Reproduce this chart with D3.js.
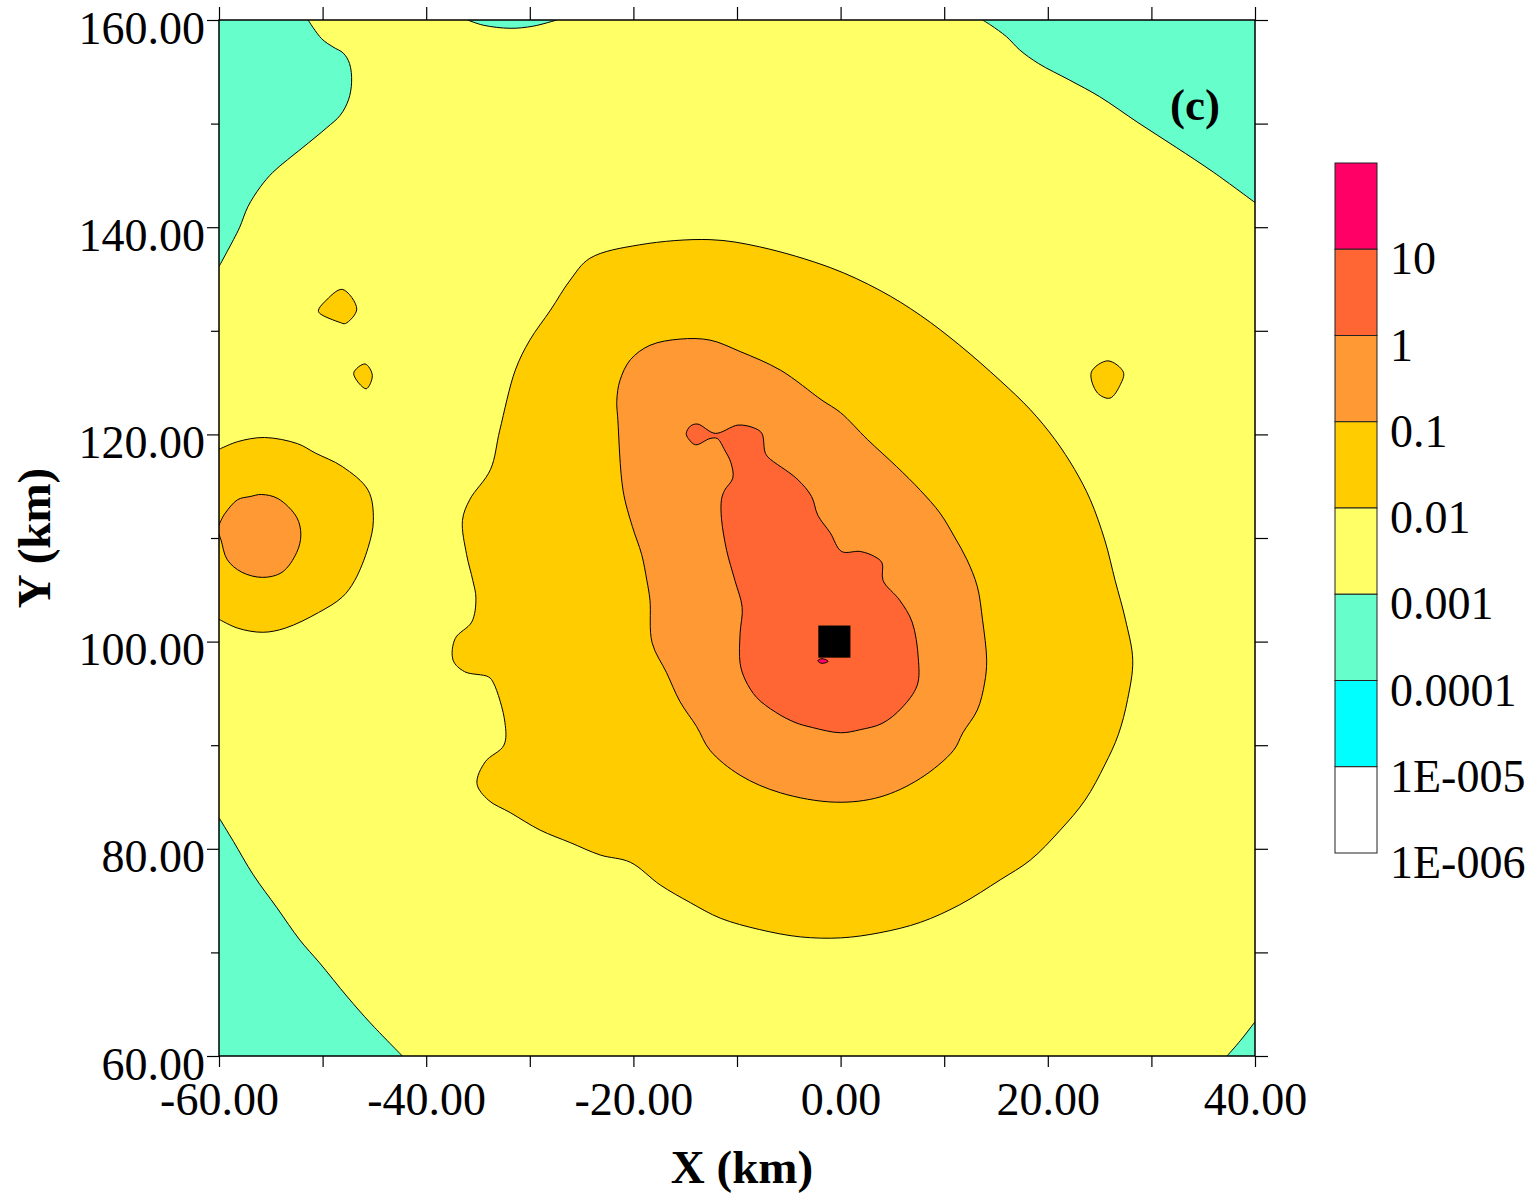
<!DOCTYPE html>
<html>
<head>
<meta charset="utf-8">
<script src="https://cdn.jsdelivr.net/npm/d3@7"></script>
<style>
  body { margin: 0; background: #fff; }
  svg { display: block; }
  text { font-family: "Liberation Serif", "Times New Roman", serif; fill: #000; }
</style>
</head>
<body>
<svg id="chart" width="1538" height="1195"></svg>
<script>
// axis ticks (km)
var xMajor = [-60, -40, -20, 0, 20, 40];
var xMinor = [-50, -30, -10, 10, 30];
var yMajor = [60, 80, 100, 120, 140, 160];
var yMinor = [70, 90, 110, 130, 150];

// legend levels, top to bottom
var levelLabels = ["10", "1", "0.1", "0.01", "0.001", "0.0001", "1E-005", "1E-006"];
var levelColors = ["#ff0066", "#ff6633", "#ff9933", "#ffcc00", "#ffff66", "#66ffcc", "#00ffff", "#ffffff"];

// contour outlines, in km [x, y]
// regions touching the frame: line part + corner points outside the frame
var greenTopLeft = [[-51.4, 160], [-50.1, 158.2], [-49.0, 157.4], [-48.0, 156.8], [-47.4, 155.8], [-47.2, 154.0],
  [-47.5, 152.3], [-48.3, 150.8], [-49.6, 149.6], [-51.9, 147.7], [-53.4, 146.5], [-54.8, 145.3], [-56.0, 143.9],
  [-57.2, 142.0], [-58.0, 140.0], [-58.6, 138.8], [-60, 136.2]];
var greenTopLeftOut = [[-61, 136.2], [-61, 161], [-51.4, 161]];

var greenTop = [[-36.0, 160], [-34.5, 159.5], [-31.9, 159.2], [-29.7, 159.4], [-27.4, 160]];
var greenTopOut = [[-27.4, 161], [-36.0, 161]];

var greenTopRight = [[13.7, 160], [14.5, 159.5], [16.0, 158.4], [17.3, 157.1], [19.1, 155.8], [22.1, 154.2],
  [25.0, 152.6], [28.7, 150.1], [32.4, 147.7], [36.0, 145.3], [40.1, 142.3]];
var greenTopRightOut = [[41, 142.3], [41, 161], [13.7, 161]];

var greenBottomLeft = [[-60, 83.0], [-58.6, 80.7], [-56.7, 77.5], [-54.4, 74.3], [-52.2, 71.2], [-50.3, 69.0],
  [-47.6, 65.7], [-45.4, 63.2], [-42.3, 60]];
var greenBottomLeftOut = [[-42.3, 59], [-61, 59], [-61, 83.0]];

var greenBottomRight = [[37.3, 60], [38.6, 61.5], [40, 63.3]];
var greenBottomRightOut = [[41, 63.3], [41, 59], [37.3, 59]];

var goldLeft = [[-59.9, 118.6], [-58.2, 119.3], [-55.6, 119.7], [-52.4, 119.1], [-50.7, 118.2], [-48.1, 116.9],
  [-45.6, 114.6], [-45.1, 111.7], [-45.6, 109.1], [-46.9, 105.9], [-48.1, 104.3], [-50.4, 102.8], [-53.6, 101.3],
  [-55.8, 100.9], [-58.2, 101.3], [-59.9, 102.1]];
var goldLeftOut = [[-61, 102.1], [-61, 118.6]];

var orangeLeft = [[-60.1, 110.8], [-59.8, 111.7], [-59.4, 112.4], [-58.2, 113.7], [-57.0, 114.0], [-55.9, 114.2],
  [-54.3, 113.8], [-52.5, 112.0], [-52.1, 110.3], [-52.5, 108.6], [-53.9, 106.7], [-55.8, 106.2], [-57.8, 106.7],
  [-59.2, 107.9], [-59.8, 109.8]];

// closed regions
var goldMain = [[-24.2, 137.0], [-19.4, 138.3], [-12.6, 138.8], [-7.8, 138.1], [-1.0, 136.1], [3.8, 133.9],
  [7.7, 131.5], [11.5, 128.6], [15.4, 125.2], [18.3, 122.4], [20.7, 119.5], [22.6, 116.6], [24.1, 113.7],
  [25.5, 109.8], [26.5, 105.9], [27.5, 102.1], [28.2, 98.2], [27.7, 94.4], [26.8, 91.0], [25.5, 88.1],
  [23.6, 84.7], [21.2, 81.8], [18.3, 78.9], [15.4, 77.0], [11.5, 74.6], [7.7, 72.9], [3.8, 71.9], [0.0, 71.4],
  [-3.9, 71.5], [-7.8, 72.2], [-11.6, 73.3], [-14.5, 74.8], [-17.4, 76.5], [-20.3, 78.7], [-23.2, 79.4],
  [-26.1, 80.6], [-29.0, 81.8], [-31.9, 83.5], [-34.0, 84.7], [-35.1, 86.3], [-34.3, 88.4], [-32.5, 90.0],
  [-32.4, 92.2], [-33.5, 96.0], [-34.0, 96.6], [-36.3, 97.1], [-37.4, 98.2], [-37.2, 100.3], [-35.6, 101.9],
  [-35.2, 104.2], [-35.5, 105.9], [-36.1, 108.4], [-36.5, 111.7], [-35.8, 113.7], [-33.8, 116.6], [-32.9, 120.4],
  [-31.4, 126.2], [-30.0, 129.1], [-28.0, 132.0], [-26.1, 134.9]];

var goldIsle1 = [[-50.4, 132.0], [-49.8, 132.8], [-48.1, 134.0], [-46.7, 132.1], [-47.8, 130.7], [-48.3, 130.8], [-50.3, 131.7]];
var goldIsle2 = [[-47.0, 125.9], [-45.9, 126.8], [-45.2, 125.7], [-45.8, 124.4]];
var goldIsle3 = [[24.2, 126.0], [25.8, 127.1], [27.3, 126.0], [27.0, 124.8], [26.0, 123.5], [24.8, 124.0]];

var orangeMain = [[-21.6, 123.3], [-21.3, 125.2], [-20.3, 127.2], [-18.4, 128.6], [-15.5, 129.2], [-12.6, 129.1],
  [-9.7, 128.0], [-5.8, 126.2], [-1.8, 123.3], [0.0, 122.1], [2.6, 119.5], [5.4, 116.9], [7.7, 114.6],
  [9.6, 112.4], [11.0, 110.1], [12.2, 107.9], [13.2, 105.3], [13.7, 102.1], [14.1, 98.2], [13.9, 96.0],
  [13.2, 93.4], [11.8, 91.2], [10.9, 89.5], [7.7, 86.8], [3.8, 85.0], [-0.5, 84.5], [-5.8, 85.4], [-9.7, 87.1],
  [-12.6, 89.5], [-13.9, 91.8], [-15.5, 94.2], [-16.8, 97.0], [-18.2, 99.9], [-18.4, 104.0], [-18.7, 105.9],
  [-19.2, 108.4], [-20.1, 111.1], [-21.0, 114.6], [-21.5, 121.4]];

var redMain = [[-14.9, 120.1], [-14.5, 120.8], [-13.8, 121.0], [-12.1, 120.1], [-9.9, 120.9], [-8.3, 120.6],
  [-7.6, 120.1], [-7.3, 118.3], [-7.0, 117.8], [-4.2, 115.7], [-2.8, 114.0], [-2.2, 112.2], [-1.0, 110.5],
  [0.1, 108.7], [1.9, 108.7], [3.3, 108.2], [4.0, 107.6], [4.1, 105.9], [5.7, 104.0], [6.9, 101.9], [7.5, 98.4],
  [7.4, 95.8], [5.9, 93.6], [4.0, 92.1], [1.9, 91.5], [0.0, 91.2], [-2.7, 91.7], [-4.4, 92.2], [-6.3, 93.2],
  [-8.1, 94.6], [-9.2, 96.3], [-9.7, 97.9], [-9.7, 100.8], [-9.5, 103.3], [-10.2, 105.9], [-11.0, 108.8],
  [-11.5, 111.9], [-11.5, 113.7], [-11.2, 114.6], [-10.4, 115.8], [-10.6, 117.3], [-11.2, 118.5], [-11.9, 119.6],
  [-12.6, 119.6], [-14.0, 119.0], [-14.7, 119.6]];

var pinkSpot = [[-2.2, 98.15], [-1.8, 98.35], [-1.2, 98.1], [-1.8, 97.9]];

var source = [-0.6, 100];
var sourceHalf = 1.55;

(function () {
  var svg = d3.select("#chart");
  var plotLeft = 219, plotRight = 1255, plotTop = 20, plotBottom = 1056;

  var x = d3.scaleLinear().domain([-60, 40]).range([plotLeft, plotRight]);
  var y = d3.scaleLinear().domain([60, 160]).range([plotBottom, plotTop]);

  svg.append("clipPath").attr("id", "plotClip")
    .append("rect")
    .attr("x", plotLeft).attr("y", plotTop)
    .attr("width", plotRight - plotLeft).attr("height", plotBottom - plotTop);

  var plot = svg.append("g").attr("clip-path", "url(#plotClip)");

  // background level 0.001 - 0.01
  plot.append("rect")
    .attr("x", plotLeft).attr("y", plotTop)
    .attr("width", plotRight - plotLeft).attr("height", plotBottom - plotTop)
    .attr("fill", levelColors[4]);

  var openLine = d3.line()
    .x(function (d) { return x(d[0]); })
    .y(function (d) { return y(d[1]); })
    .curve(d3.curveCatmullRom.alpha(0.5));

  var closedLine = d3.line()
    .x(function (d) { return x(d[0]); })
    .y(function (d) { return y(d[1]); })
    .curve(d3.curveCatmullRomClosed.alpha(0.5));

  function edgePath(pts, outside) {
    var p = openLine(pts);
    outside.forEach(function (d) { p += "L" + x(d[0]) + "," + y(d[1]); });
    return p + "Z";
  }

  var edgeRegions = [
    { pts: greenTopLeft, out: greenTopLeftOut, color: levelColors[5] },
    { pts: greenTop, out: greenTopOut, color: levelColors[5] },
    { pts: greenTopRight, out: greenTopRightOut, color: levelColors[5] },
    { pts: greenBottomLeft, out: greenBottomLeftOut, color: levelColors[5] },
    { pts: greenBottomRight, out: greenBottomRightOut, color: levelColors[5] },
    { pts: goldLeft, out: goldLeftOut, color: levelColors[3] }
  ];

  var closedRegions = [
    { pts: goldMain, color: levelColors[3] },
    { pts: goldIsle1, color: levelColors[3] },
    { pts: goldIsle2, color: levelColors[3] },
    { pts: goldIsle3, color: levelColors[3] },
    { pts: orangeLeft, color: levelColors[2] },
    { pts: orangeMain, color: levelColors[2] },
    { pts: redMain, color: levelColors[1] },
    { pts: pinkSpot, color: levelColors[0] }
  ];

  plot.selectAll(".edge")
    .data(edgeRegions)
    .enter().append("path")
    .attr("class", "edge")
    .attr("d", function (d) { return edgePath(d.pts, d.out); })
    .attr("fill", function (d) { return d.color; })
    .attr("stroke", "#000")
    .attr("stroke-width", 1);

  plot.selectAll(".closed")
    .data(closedRegions)
    .enter().append("path")
    .attr("class", "closed")
    .attr("d", function (d) { return closedLine(d.pts); })
    .attr("fill", function (d) { return d.color; })
    .attr("stroke", "#000")
    .attr("stroke-width", 1);

  // source marker
  plot.append("rect")
    .attr("x", x(source[0] - sourceHalf))
    .attr("y", y(source[1] + sourceHalf))
    .attr("width", x(source[0] + sourceHalf) - x(source[0] - sourceHalf))
    .attr("height", y(source[1] - sourceHalf) - y(source[1] + sourceHalf))
    .attr("fill", "#000");

  // frame
  svg.append("rect")
    .attr("x", plotLeft).attr("y", plotTop)
    .attr("width", plotRight - plotLeft).attr("height", plotBottom - plotTop)
    .attr("fill", "none")
    .attr("stroke", "#000")
    .attr("stroke-width", 1.5);

  var fmt = d3.formatLocale({ decimal: ".", thousands: ",", grouping: [3], currency: ["", ""], minus: "-" }).format(".2f");
  var fontSize = 46;

  function styleAxis(g) {
    g.select(".domain").remove();
    g.selectAll(".tick line").attr("stroke", "#000").attr("stroke-width", 1.2);
    g.selectAll("text").attr("font-size", fontSize).attr("font-family", "Liberation Serif, serif");
  }

  // left axis
  svg.append("g")
    .attr("transform", "translate(" + plotLeft + ",0)")
    .call(d3.axisLeft(y).tickValues(yMajor).tickFormat(fmt).tickSize(12).tickPadding(2))
    .call(styleAxis)
    .selectAll("text").attr("dy", "0.5em");
  svg.append("g")
    .attr("transform", "translate(" + plotLeft + ",0)")
    .call(d3.axisLeft(y).tickValues(yMinor).tickFormat("").tickSize(8))
    .call(styleAxis);

  // bottom axis
  svg.append("g")
    .attr("transform", "translate(0," + plotBottom + ")")
    .call(d3.axisBottom(x).tickValues(xMajor.concat(xMinor)).tickFormat(function (d) {
      return xMajor.indexOf(d) >= 0 ? fmt(d) : "";
    }).tickSize(11))
    .call(styleAxis)
    .selectAll("text").attr("y", 59).attr("dy", 0);

  // top and right ticks
  svg.append("g")
    .attr("transform", "translate(0," + plotTop + ")")
    .call(d3.axisTop(x).tickValues(xMajor.concat(xMinor)).tickFormat("").tickSize(13))
    .call(styleAxis);
  svg.append("g")
    .attr("transform", "translate(" + plotRight + ",0)")
    .call(d3.axisRight(y).tickValues(yMajor.concat(yMinor)).tickFormat("").tickSize(13))
    .call(styleAxis);

  // axis titles
  svg.append("text")
    .attr("x", (plotLeft + plotRight) / 2 + 5)
    .attr("y", 1183)
    .attr("text-anchor", "middle")
    .attr("font-size", 47)
    .attr("font-weight", "bold")
    .text("X (km)");

  svg.append("text")
    .attr("transform", "translate(50," + ((plotTop + plotBottom) / 2) + ") rotate(-90)")
    .attr("text-anchor", "middle")
    .attr("font-size", 47)
    .attr("font-weight", "bold")
    .text("Y (km)");

  // panel tag
  svg.append("text")
    .attr("x", 1220)
    .attr("y", 120)
    .attr("text-anchor", "end")
    .attr("font-size", 45)
    .attr("font-weight", "bold")
    .text("(c)");

  // colour bar legend
  var barTop = 163, barBottom = 853, barLeft = 1335, barWidth = 42;
  var band = d3.scaleBand().domain(d3.range(levelColors.length)).range([barTop, barBottom]);

  var legend = svg.append("g");
  legend.selectAll("rect")
    .data(levelColors)
    .enter().append("rect")
    .attr("x", barLeft)
    .attr("y", function (d, i) { return band(i); })
    .attr("width", barWidth)
    .attr("height", band.bandwidth())
    .attr("fill", function (d) { return d; })
    .attr("stroke", "#222")
    .attr("stroke-width", 1);

  legend.selectAll("text")
    .data(levelLabels)
    .enter().append("text")
    .attr("x", barLeft + 55)
    .attr("y", function (d, i) { return band(i) + band.bandwidth() + 25; })
    .attr("font-size", fontSize)
    .text(function (d) { return d; });
})();
</script>
</body>
</html>
